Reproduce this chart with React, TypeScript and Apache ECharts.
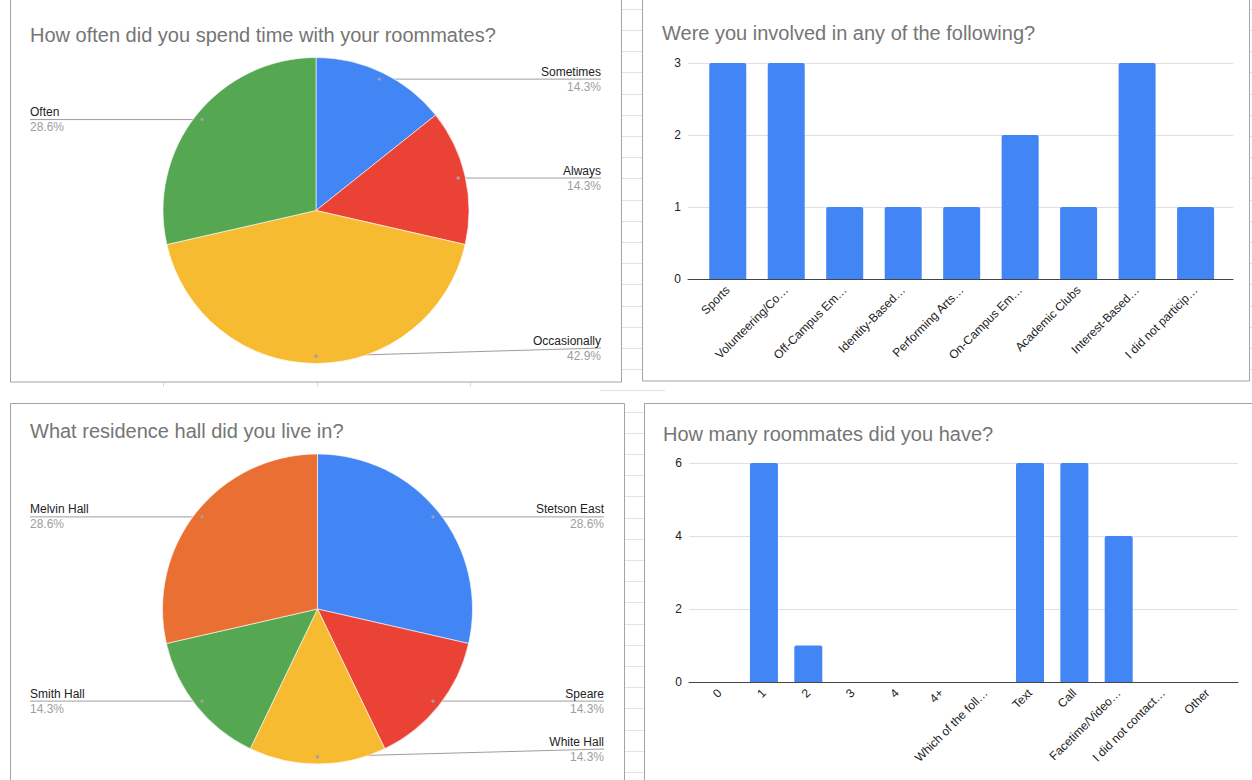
import React, { useEffect, useRef } from "react";
import * as echarts from "echarts";

// ---------- data ----------
const freqNames = ["Sometimes", "Always", "Occasionally", "Often"];
const freqValues = [1, 1, 3, 2];
const freqColors = ["#4285f4", "#ea4335", "#f6bb31", "#55a851"];

const hallNames = ["Stetson East", "Speare", "White Hall", "Smith Hall", "Melvin Hall"];
const hallValues = [2, 1, 1, 1, 2];
const hallColors = ["#4285f4", "#ea4335", "#f6bb31", "#55a851", "#e96f32"];

const involvementCategories = [
  "Sports",
  "Volunteering/Co…",
  "Off-Campus Em…",
  "Identity-Based…",
  "Performing Arts…",
  "On-Campus Em…",
  "Academic Clubs",
  "Interest-Based…",
  "I did not particip…",
];
const involvementValues = [3, 3, 1, 1, 1, 2, 1, 3, 1];

const roommateCategories = [
  "0",
  "1",
  "2",
  "3",
  "4",
  "4+",
  "Which of the foll…",
  "Text",
  "Call",
  "Facetime/Video…",
  "I did not contact…",
  "Other",
];
const roommateValues = [0, 6, 1, 0, 0, 0, 0, 6, 6, 4, 0, 0];

const titles = [
  "How often did you spend time with your roommates?",
  "Were you involved in any of the following?",
  "What residence hall did you live in?",
  "How many roommates did you have?",
];

const FONT = "'Liberation Sans', Arial, Helvetica, sans-serif";
const BAR_COLOR = "#4285f4";

function makePie(
  names: string[],
  values: number[],
  colors: string[],
  cx: number,
  cy: number,
  r: number,
  leftX: number,
  rightX: number,
  maxY: number
) {
  const total = values.reduce((a, b) => a + b, 0);
  const mids: number[] = [];
  let acc = 0;
  values.forEach((v) => {
    mids.push(((acc + v / 2) / total) * 2 * Math.PI);
    acc += v;
  });
  const dotR = r * 0.953;
  const anchor = (i: number) => [cx + dotR * Math.sin(mids[i]), cy - dotR * Math.cos(mids[i])];

  const series = {
    type: "pie",
    center: [cx, cy],
    radius: r,
    startAngle: 90,
    clockwise: true,
    silent: true,
    avoidLabelOverlap: false,
    data: names.map((n, i) => ({ name: n, value: values[i], itemStyle: { color: colors[i] } })),
    itemStyle: { borderColor: "#ffffff", borderWidth: 0.6 },
    label: {
      show: true,
      position: "outside",
      fontFamily: FONT,
      formatter: (p: any) => `{n|${p.name}}\n{p|${p.percent.toFixed(1)}%}`,
      rich: {
        n: { fontSize: 12, color: "#222222", lineHeight: 15, fontFamily: FONT },
        p: { fontSize: 12, color: "#9e9e9e", lineHeight: 15, fontFamily: FONT },
      },
    },
    labelLine: { show: true, lineStyle: { color: "#9e9e9e", width: 1 } },
    labelLayout: (params: any) => {
      const i = params.dataIndex;
      const [dx, dy] = anchor(i);
      const isRight = dx >= cx - 0.01;
      const ey = Math.min(dy, maxY);
      const ex = isRight ? rightX : leftX;
      return {
        x: ex,
        y: ey,
        align: isRight ? "right" : "left",
        verticalAlign: "middle",
        labelLinePoints: [
          [dx, dy],
          [dx, dy],
          [ex, ey],
        ],
      };
    },
  };
  const dots = values.map((_, i) => {
    const [dx, dy] = anchor(i);
    return {
      type: "circle",
      z: 50,
      silent: true,
      shape: { cx: dx, cy: dy, r: 1.7 },
      style: { fill: "#a0a0a0" },
    };
  });
  return { series, dots };
}

function barAxes(
  gridIndex: number,
  cats: string[],
  xMin: number,
  xMax: number,
  yMax: number,
  yInterval: number
) {
  const xAxis = {
    type: "value",
    gridIndex,
    min: xMin,
    max: xMax,
    axisLine: { show: true, lineStyle: { color: "#444444", width: 1 } },
    axisTick: { show: false },
    splitLine: { show: false },
    axisLabel: {
      customValues: cats.map((_, i) => i),
      formatter: (v: number) => cats[Math.round(v)] ?? "",
      rotate: 45,
      margin: 9,
      color: "#222222",
      fontSize: 12,
      fontFamily: FONT,
    },
  };
  const yAxis = {
    type: "value",
    gridIndex,
    min: 0,
    max: yMax,
    interval: yInterval,
    axisLine: { show: false },
    axisTick: { show: false },
    splitLine: { show: true, lineStyle: { color: "#e0e0e0", width: 1 } },
    axisLabel: { color: "#222222", fontSize: 12, margin: 7, fontFamily: FONT },
  };
  return { xAxis, yAxis };
}

function buildBackground() {
  const els: any[] = [];
  // spreadsheet row lines (visible only in the gaps between panels)
  for (let y = 8.8; y < 780; y += 21.2) {
    const yy = Math.round(y) + 0.5;
    const inGap = yy > 382 && yy < 403;
    els.push({
      type: "line",
      z: -20,
      silent: true,
      shape: { x1: 600, y1: yy, x2: inGap ? 665 : 1252, y2: yy },
      style: { stroke: "#e3e3e3", lineWidth: 1 },
    });
  }
  // spreadsheet column marks just below the top-left panel
  [163, 317, 470].forEach((x) => {
    els.push({
      type: "line",
      z: -20,
      silent: true,
      shape: { x1: x + 0.5, y1: 380, x2: x + 0.5, y2: 387 },
      style: { stroke: "#dcdcdc", lineWidth: 1 },
    });
  });
  // chart panels
  const panels = [
    [10.5, -2, 611, 384],
    [642.5, -2, 607, 383],
    [10.5, 403.5, 614, 380],
    [644.5, 403.5, 612, 380],
  ];
  panels.forEach(([x, y, w, h]) => {
    els.push({
      type: "rect",
      z: -10,
      silent: true,
      shape: { x, y, width: w, height: h },
      style: { fill: "#ffffff", stroke: "#a3a3a3", lineWidth: 1 },
    });
  });
  return els;
}

export default function App() {
  const ref = useRef<HTMLDivElement>(null);

  useEffect(() => {
    if (!ref.current) return;
    const chart = echarts.init(ref.current, undefined, { renderer: "svg" });

    const pie1 = makePie(freqNames, freqValues, freqColors, 316, 210.5, 153, 30, 601, 348);
    const pie2 = makePie(hallNames, hallValues, hallColors, 317.5, 609, 155, 30, 604, 749);

    const a1 = barAxes(0, involvementCategories, -0.68, 8.64, 3, 1);
    const a2 = barAxes(1, roommateCategories, -0.69, 11.69, 6, 2);

    const titleStyle = { fontSize: 20, color: "#757575", fontWeight: "normal", fontFamily: FONT };

    chart.setOption({
      animation: false,
      backgroundColor: "#ffffff",
      title: [
        { text: titles[0], left: 30, top: 25, padding: 0, textStyle: titleStyle },
        { text: titles[1], left: 662, top: 23, padding: 0, textStyle: titleStyle },
        { text: titles[2], left: 30, top: 421, padding: 0, textStyle: titleStyle },
        { text: titles[3], left: 663, top: 424, padding: 0, textStyle: titleStyle },
      ],
      grid: [
        { left: 688, right: 1252 - 1233, top: 63, bottom: 780 - 279, containLabel: false },
        { left: 689, right: 1252 - 1238, top: 463, bottom: 780 - 682, containLabel: false },
      ],
      xAxis: [a1.xAxis, a2.xAxis],
      yAxis: [a1.yAxis, a2.yAxis],
      series: [
        pie1.series,
        pie2.series,
        {
          type: "bar",
          xAxisIndex: 0,
          yAxisIndex: 0,
          barWidth: 37,
          silent: true,
          itemStyle: { color: BAR_COLOR, borderRadius: [2, 2, 0, 0] },
          data: involvementValues.map((v, i) => [i, v]),
        },
        {
          type: "bar",
          xAxisIndex: 1,
          yAxisIndex: 1,
          barWidth: 28,
          silent: true,
          itemStyle: { color: BAR_COLOR, borderRadius: [2, 2, 0, 0] },
          data: roommateValues.map((v, i) => [i, v]),
        },
      ],
      graphic: [...buildBackground(), ...pie1.dots, ...pie2.dots],
    });

    return () => chart.dispose();
  }, []);

  return (
    <div
      ref={ref}
      style={{ position: "absolute", left: 0, top: 0, width: 1252, height: 780 }}
    />
  );
}
